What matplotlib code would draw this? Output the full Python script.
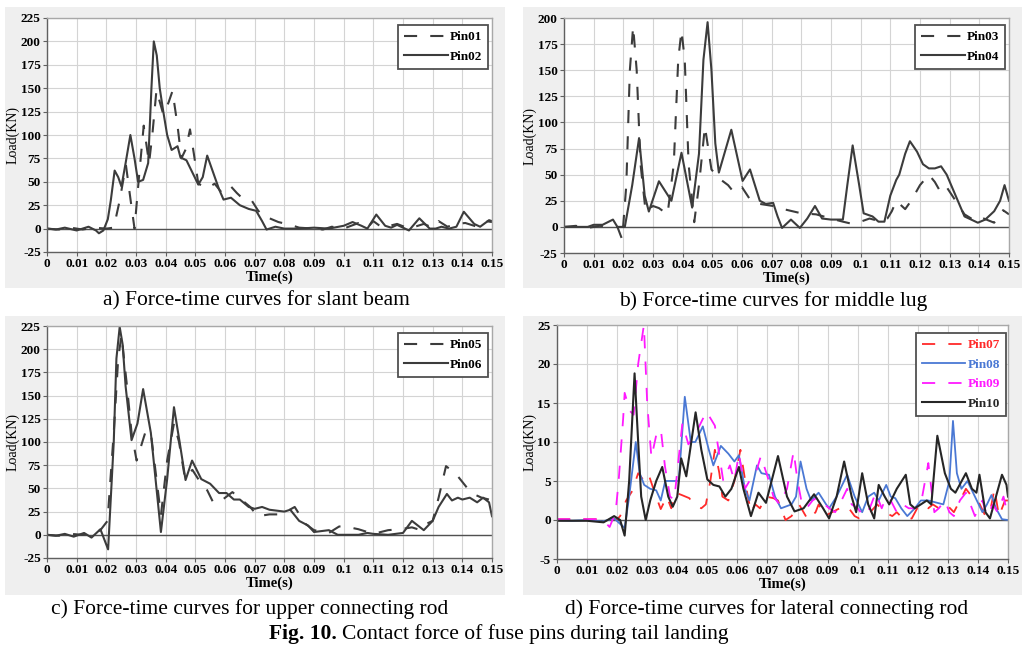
import matplotlib
matplotlib.use("Agg")
import matplotlib.pyplot as plt
from matplotlib.patches import Rectangle
from matplotlib.ticker import MultipleLocator, FuncFormatter

plt.rcParams['font.family'] = ['Liberation Serif', 'DejaVu Serif']

# ---------------- data (time in s, load in kN) ----------------
# a) slant beam
t_pin01 = [0, .004, .008, .012, .016, .02, .0225, .0245, .0266, .0282, .0295, .031, .0326, .0344, .0355,
           .0369, .0392, .041, .0423, .044, .0453, .0468, .0482, .0495, .051, .054, .0565, .059, .062, .064,
           .066, .069, .071, .073, .075, .078, .082, .085, .09, .093, .096, .1, .105, .108, .11,
           .113, .118, .122, .127, .13, .132, .135, .138, .141, .145, .148, .15]
load_pin01 = [0, -1, 1, -1, 1, 0, 1, 30, 68, 30, 0, 55, 110, 70, 100,
              148, 122, 135, 147, 110, 75, 85, 106, 80, 48, 43, 48, 38, 45, 38,
              32, 30, 20, 12, 11, 7, 4, 1, 0, -1, 2, 0, 6, 1, 8,
              1, 5, 0, 5, 1, 8, 2, 5, 6, 2, 8, 7]
t_pin02 = [0, .003, .006, .01, .014, .0165, .0175, .019, .0205, .0215, .0228, .024, .0251, .0265, .0281,
           .0295, .0307, .0324, .0341, .0352, .036, .037, .038, .0392, .0405, .042, .044, .045, .047, .049,
           .051, .0525, .054, .056, .058, .0595, .062, .065, .068, .0705, .0725, .074, .077, .08, .085,
           .09, .095, .1, .103, .106, .108, .111, .114, .116, .118, .12, .122, .1255, .129, .131,
           .133, .1355, .138, .1405, .144, .146, .149, .15]
load_pin02 = [0, -1, 1, -2, 2, -2, -5, -2, 10, 30, 62, 55, 45, 70, 100,
              75, 50, 52, 70, 150, 200, 185, 150, 125, 100, 84, 88, 76, 73, 60,
              47, 55, 78, 60, 42, 31, 33, 25, 21, 19, 8, -1, 2, 0, 0,
              1, 0, 3, 7, 3, 0, 15, 3, 1, 4, 1, -2, 11, 0, 0,
              2, 0, 2, 18, 5, 2, 9, 8]

# b) middle lug
t_pin03 = [0, .004, .008, .012, .016, .018, .0196, .021, .0222, .0233, .0245, .0258, .0275, .03, .032,
           .0349, .037, .0385, .0396, .0407, .042, .0439, .0455, .0475, .0497, .052, .0553, .0573, .06, .063,
           .066, .0705, .074, .077, .08, .085, .09, .094, .097, .1, .103, .107, .109, .1105, .112,
           .115, .117, .12, .123, .125, .127, .129, .132, .135, .139, .1415, .145, .148, .15]
load_pin03 = [0, 1, -1, 1, 0, 0, -12, 40, 150, 192, 150, 60, 15, 20, 18,
              12, 60, 160, 188, 160, 60, 4.5, 40, 96, 55, 47, 40, 33, 38, 25,
              22, 20, 17, 15, 13, 12, 8, 5, 3, 5, 8, 5, 8, 15, 25,
              17, 25, 40, 50, 43, 33, 38, 25, 12, 5, 8, 4, 16, 12]
t_pin04 = [0, .004, .008, .01, .013, .0165, .018, .0205, .023, .0253, .0272, .0286, .032, .0362, .0396,
           .0432, .0455, .047, .0484, .0497, .051, .0522, .0564, .0602, .0627, .066, .068, .0705, .072, .0735,
           .0765, .0795, .082, .0846, .087, .09, .094, .0955, .0973, .0995, .101, .104, .106, .108, .11,
           .112, .113, .115, .1166, .119, .121, .123, .125, .1271, .129, .132, .135, .1395, .142, .145,
           .147, .1485, .15]
load_pin04 = [0, 0, 0, 2, 2, 7, 0, 0, 40, 85, 30, 14.7, 43.7, 25, 71,
              18.5, 70, 160, 196, 150, 80, 52, 93, 44, 55, 25, 22, 23, 10, -1,
              7, -1, 8, 20, 8, 7, 7, 40, 78, 40, 13, 10, 5, 5, 30,
              45, 50, 70, 82, 72, 60, 56, 56, 58, 50, 30, 10, 4, 7, 15,
              25, 40, 25]

# c) upper connecting rod
t_pin05 = [0, .004, .008, .012, .016, .018, .0204, .0225, .024, .0251, .0268, .0285, .0302, .0333, .035,
           .0384, .0405, .0428, .0445, .0465, .049, .052, .054, .056, .058, .0625, .0655, .0685, .071, .075,
           .079, .0835, .087, .09, .095, .0985, .102, .105, .11, .115, .119, .123, .126, .128, .13,
           .132, .1345, .138, .1405, .143, .1465, .149, .15]
load_pin05 = [0, -1, 1, 0, 2, 5, 15, 110, 190, 215, 165, 110, 80, 112, 110,
              21, 80, 120, 100, 61, 70, 55, 48, 35, 35, 46, 38, 30, 20, 22,
              22, 30, 12, 5, 2, 9, 8, 6, 1, 5, 6, 8, 5, 12, 15,
              40, 74, 65, 55, 45, 40, 38, 25]
t_pin06 = [0, .003, .006, .009, .0125, .015, .018, .0206, .0225, .0234, .0245, .0255, .0265, .0285, .0305,
           .0324, .035, .0384, .0405, .0428, .0447, .0467, .0489, .052, .055, .058, .0605, .063, .065, .068,
           .07, .0725, .075, .08, .082, .085, .088, .09, .095, .098, .1, .105, .108, .11, .115,
           .12, .123, .127, .13, .132, .1348, .1365, .1385, .14, .1425, .145, .147, .149, .15]
load_pin06 = [0, -1, 1, -2, 2, -3, 6, -15.7, 100, 190, 224, 205, 160, 102, 120,
              157, 110, 3, 60, 137.5, 100, 59, 80, 60, 55, 45, 45, 38, 38, 30,
              28, 30, 27, 25, 27, 15, 10, 3, 5, 0, 0, 0, 2, 1, 0,
              2, 15, 5, 15, 30, 44, 37, 40, 38, 40, 35, 40, 35, 20]

# d) lateral connecting rod
t_pin07 = [0, .005, .01, .015, .02, .021, .023, .025, .027, .029, .0305, .0325, .0345, .0365, .038,
           .0395, .0415, .044, .0455, .048, .0495, .051, .0525, .054, .055, .057, .059, .061, .063, .0645,
           .066, .0675, .0695, .072, .0735, .075, .076, .078, .0805, .082, .0835, .086, .087, .089, .0915,
           .094, .0965, .099, .1005, .103, .1065, .109, .1115, .113, .1155, .118, .1205, .1235, .125, .127,
           .1295, .132, .134, .136, .138, .14, .1425, .144, .1455, .147, .149, .15]
load_pin07 = [0.1, 0.1, 0.1, 0.1, 0.1, 0.5, 2.5, 3.7, 6, 5, 5.8, 3.5, 1.4, 3, 1.5,
              3.5, 3.2, 2.8, 2, 1.5, 2, 5, 9, 6, 3, 2.5, 5, 9, 4, 1,
              2, 1.5, 3, 2.8, 2.5, 1, 0, 0.5, 2, 1, 0, 1, 2, 0.5, 1,
              1.5, 1.8, 0.5, 0.2, 0.5, 2, 1, 0.5, 1, 0, 0.2, 2, 1.5, 2, 1.5,
              2, 1, 2.5, 4, 3, 2.5, 0.5, 1, 4, 0.5, 2.5, 2.5]
t_pin08 = [0, .005, .01, .015, .019, .021, .0225, .024, .0262, .0275, .029, .031, .033, .0345, .036,
           .038, .0405, .0425, .0445, .046, .0485, .0505, .052, .0545, .057, .059, .0605, .0625, .064, .0665,
           .068, .0705, .0725, .0745, .078, .0795, .081, .083, .0845, .087, .0895, .0905, .093, .0965, .099,
           .1015, .1035, .1055, .107, .1095, .111, .1125, .1145, .1165, .119, .121, .1235, .1255, .1285, .1305,
           .1317, .133, .1345, .1365, .139, .1415, .143, .1445, .146, .148, .15]
load_pin08 = [0, -0.1, 0, -0.2, 0.2, -0.5, -1, 3, 10, 6, 4.5, 4, 3.8, 2.5, 5,
              5, 5, 15.8, 10, 10, 12, 9, 7, 9.5, 8.5, 7.5, 8.3, 4, 2.5, 7,
              6, 5.8, 3, 1.5, 2, 3, 7.5, 4, 2.5, 3.5, 2, 1.5, 3, 5.8, 3,
              1, 3, 3.5, 2.5, 4.5, 3, 2.8, 1.5, 0.5, 1.5, 2.5, 2.5, 2.3, 2, 5,
              12.7, 6, 4, 5, 3, 1, 2, 3.2, 1.5, 0.1, 0]
t_pin09 = [0, .005, .01, .015, .0175, .0195, .0205, .022, .0225, .0242, .0255, .027, .0289, .030, .0314,
           .0334, .0346, .0359, .0376, .039, .0417, .0437, .046, .0497, .0525, .0553, .0575, .059, .0605, .0625,
           .064, .0665, .0678, .0705, .072, .074, .0765, .0787, .080, .0815, .083, .085, .087, .089, .0905,
           .0925, .094, .0965, .098, .1, .102, .104, .106, .108, .1095, .111, .113, .115, .117, .119,
           .121, .1235, .1245, .1255, .127, .129, .1305, .132, .134, .136, .1375, .139, .1415, .143, .145,
           .1465, .1485, .15]
load_pin09 = [0.1, 0.1, 0.1, 0.1, -0.9, 1, 5, 13, 16.3, 14, 13.5, 20, 25, 15, 8,
              11.6, 11.4, 6.9, 3, 2.6, 12.4, 9.7, 11, 13.9, 12.1, 5, 7, 5, 8.5, 4,
              5, 6.5, 8.2, 5, 3, 2, 4, 8.8, 5, 2, 1.5, 2.5, 3, 2, 1.5,
              1, 2, 4, 2, 1.5, 0.5, 1.5, 3.5, 1.5, 3, 2.5, 1, 2, 1.5, 1.5,
              2, 7.3, 4, 1, 1.5, 2.5, 1, 0.5, 2.5, 3.5, 2, 0.5, 2.5, 0.5, 2,
              1, 3, 0.5]
t_pin10 = [0, .005, .01, .0155, .019, .021, .0225, .024, .0258, .027, .028, .0295, .031, .033, .035,
           .037, .0385, .04, .0413, .043, .0461, .048, .05, .052, .054, .056, .058, .0605, .062, .0645,
           .067, .0695, .0735, .0765, .079, .082, .0855, .0885, .0905, .093, .0955, .098, .0995, .1015, .1035,
           .1055, .107, .109, .1105, .113, .116, .1175, .119, .121, .123, .1245, .1265, .129, .131, .1325,
           .136, .138, .1395, .1405, .1425, .144, .146, .148, .1495, .15]
load_pin10 = [-0.1, -0.1, -0.1, -0.3, 0.5, 0, -2, 5, 18.8, 10, 3, 0, 2.5, 5, 6.8,
              3, 1.7, 3, 7.9, 5.6, 13.8, 9, 5.2, 4.5, 4.3, 3, 4, 6.8, 4, 0.5,
              3.5, 2.2, 8.2, 3, 1.1, 1.5, 3.3, 1.5, 0.2, 3, 7.5, 3, 1, 6, 2,
              0.2, 4.5, 3, 2, 4, 5.8, 2, 1.5, 2, 2.5, 2, 10.8, 6, 4, 3.5,
              6, 4, 3.5, 5.8, 1, 0.2, 3, 5.8, 4.5, 3]

captions = ["a) Force-time curves for slant beam",
            "b) Force-time curves for middle lug",
            "c) Force-time curves for upper connecting rod",
            "d) Force-time curves for lateral connecting rod"]
fig_label = "Fig. 10."
fig_title = "Contact force of fuse pins during tail landing"

# ---------------- figure ----------------
W, H = 1027, 649
fig = plt.figure(figsize=(W / 100, H / 100), dpi=100)
fig.patch.set_facecolor('white')


def fx(px):
    return px / W


def fy(py):
    return 1 - py / H


# gray panel backgrounds (pixel boxes: left, top, right, bottom)
for (l, t, r, b) in [(5, 7, 505, 288), (523, 7, 1022, 288), (5, 316, 505, 595), (523, 316, 1022, 595)]:
    fig.add_artist(Rectangle((fx(l), fy(b)), fx(r - l), (b - t) / H, transform=fig.transFigure,
                             facecolor='#efefef', edgecolor='none', zorder=0))


def make_ax(l, t, r, b):
    return fig.add_axes([fx(l), fy(b), fx(r - l), (b - t) / H])


DARK = '#3c3c3c'
DASH = (0, (6.3, 6.3))


def style(ax, ylo, yhi, ystep):
    ax.set_facecolor('white')
    ax.set_xlim(0, 0.15)
    ax.set_ylim(ylo, yhi)
    ax.xaxis.set_major_locator(MultipleLocator(0.01))
    ax.yaxis.set_major_locator(MultipleLocator(ystep))
    ax.xaxis.set_major_formatter(FuncFormatter(lambda v, p: ('%.2f' % v).rstrip('0').rstrip('.') if abs(v) > 1e-9 else '0'))
    ax.yaxis.set_major_formatter(FuncFormatter(lambda v, p: '%d' % round(v)))
    ax.grid(True, color='#d4d4d4', linewidth=0.8)
    ax.set_axisbelow(True)
    ax.axhline(0, color='#505050', linewidth=1.0, zorder=1.5)
    for s in ['left', 'bottom']:
        ax.spines[s].set_color('#606060')
        ax.spines[s].set_linewidth(1.0)
    for s in ['top', 'right']:
        ax.spines[s].set_color('#a8a8a8')
        ax.spines[s].set_linewidth(1.0)
    ax.tick_params(direction='out', length=3, width=0.8, color='#606060', labelsize=9.5, pad=1.5)
    for lab in ax.get_xticklabels() + ax.get_yticklabels():
        lab.set_fontweight('bold')
    ax.set_xlabel('Time(s)', fontsize=10.5, fontweight='bold', labelpad=0)
    ax.set_ylabel('Load(KN)', fontsize=10, labelpad=1)


def legend(ax, colored=False, anchor=(0.992, 0.97)):
    leg = ax.legend(loc='upper right', bbox_to_anchor=anchor, frameon=True, fancybox=False,
                    edgecolor='#505050', framealpha=1, borderpad=0.45, handlelength=3.3,
                    handletextpad=0.15, labelspacing=0.55, borderaxespad=0,
                    prop={'weight': 'bold', 'size': 9.5})
    leg.get_frame().set_linewidth(1.3)
    if colored:
        for txt, ln in zip(leg.get_texts(), leg.get_lines()):
            txt.set_color(ln.get_color())
    return leg


# a)
ax = make_ax(47, 18, 492, 252)
ax.plot(t_pin01, load_pin01, color=DARK, lw=1.5, ls=DASH, label='Pin01')
ax.plot(t_pin02, load_pin02, color=DARK, lw=1.5, label='Pin02')
style(ax, -25, 225, 25)
legend(ax, anchor=(0.991, 0.97))

# b)
ax = make_ax(564, 18, 1009, 253)
ax.plot(t_pin03, load_pin03, color=DARK, lw=1.5, ls=DASH, label='Pin03')
ax.plot(t_pin04, load_pin04, color=DARK, lw=1.5, label='Pin04')
style(ax, -25, 200, 25)
legend(ax, anchor=(0.991, 0.97))

# c)
ax = make_ax(47, 326, 492, 558)
ax.plot(t_pin05, load_pin05, color=DARK, lw=1.5, ls=DASH, label='Pin05')
ax.plot(t_pin06, load_pin06, color=DARK, lw=1.5, label='Pin06')
style(ax, -25, 225, 25)
legend(ax, anchor=(0.991, 0.97))

# d)
ax = make_ax(557, 325, 1008, 559)
ax.plot(t_pin07, load_pin07, color='#ff2a2a', lw=1.3, ls=(0, (7.3, 7.3)), label='Pin07')
ax.plot(t_pin08, load_pin08, color='#4a78d4', lw=1.3, label='Pin08')
ax.plot(t_pin09, load_pin09, color='#ff19ff', lw=1.3, ls=(0, (7.3, 7.3)), label='Pin09')
ax.plot(t_pin10, load_pin10, color='#262626', lw=1.5, label='Pin10')
style(ax, -5, 25, 5)
legend(ax, colored=True, anchor=(0.995, 0.965))

# captions
cap_kw = dict(fontsize=15.5, ha='center', va='center')
fig.text(fx(256), fy(301), captions[0], **cap_kw)
fig.text(fx(773), fy(301), captions[1], **cap_kw)
fig.text(fx(250), fy(609), captions[2], **cap_kw)
fig.text(fx(767), fy(609), captions[3], **cap_kw)
fig.text(fx(337), fy(634), fig_label, fontsize=15.5, fontweight='bold', ha='right', va='center')
fig.text(fx(342), fy(634), fig_title, fontsize=15.5, ha='left', va='center')

fig.savefig('out.png', dpi=100)
